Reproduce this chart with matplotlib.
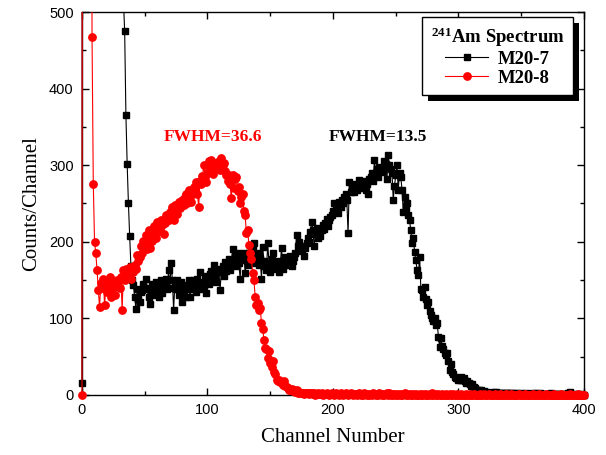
import numpy as np
import matplotlib
matplotlib.use("Agg")
import matplotlib.pyplot as plt
from matplotlib.patches import Rectangle
from matplotlib.transforms import IdentityTransform
from matplotlib.ticker import MultipleLocator

plt.rcParams['mathtext.fontset'] = 'custom'
plt.rcParams['mathtext.rm'] = 'Liberation Serif:bold'
plt.rcParams['mathtext.bf'] = 'Liberation Serif:bold'
plt.rcParams['mathtext.default'] = 'bf'

channels = np.arange(0, 401)

# M20-7 (black squares), counts per channel 0..400
m20_7 = [15,
         2950, 2800, 2650, 2500, 2350, 2200, 2050, 1900, 1800, 1700,
         1600, 1500, 1420, 1340, 1260, 1190, 1120, 1060, 1000, 950,
         900, 850, 805, 765, 725, 690, 655, 625, 600, 575,
         555, 535, 515,
         475, 365, 301, 250, 207, 168,
         150, 143, 128, 112, 138, 125, 122, 135, 137, 145,
         140, 152, 139, 128, 119, 133, 145, 130, 137, 148,
         133, 128, 141, 150, 133, 148, 146, 152, 138, 163,
         140, 172, 150, 111, 145, 138, 150, 130, 139, 148,
         122, 135, 143, 128, 140, 150, 128, 138, 146, 150,
         141, 135, 152, 145, 160, 138, 148, 142, 155, 133,
         150, 145, 158, 162, 150, 170, 155, 148, 160, 165,
         137, 160, 168, 155, 174, 162, 170, 178, 163, 172,
         191, 175, 182, 168, 185, 172, 152, 180, 176, 185,
         159, 178, 170, 185, 176, 190, 194, 198, 172, 180,
         185, 170, 178, 152, 193, 175, 168, 163, 198, 172,
         160, 178, 185, 170, 165, 175, 168, 160, 172, 192,
         165, 176, 180, 172, 178, 170, 182, 168, 175, 180,
         185, 209, 195, 200, 190, 188, 195, 181, 192, 198,
         205, 200, 213, 226, 215, 194, 210, 218, 205, 212,
         207, 215, 222, 217, 225, 230, 220, 228, 232, 235,
         240, 250, 245, 248, 237, 252, 245, 255, 250, 258,
         262, 255, 211, 278, 265, 270, 268, 265, 275, 268,
         272, 281, 275, 270, 278, 280, 268, 276, 262, 282,
         285, 290, 280, 307, 289, 295, 285, 298, 292, 291,
         295, 305, 302, 282, 313, 300, 295, 290, 255, 273,
         287, 300, 268, 290, 285, 268, 239, 258, 244, 250,
         235, 228, 215, 198, 205, 187, 176, 163, 156, 180,
         139, 137, 128, 141, 125, 118, 122, 109, 104, 100,
         96, 101, 91, 94, 76, 63, 75, 64, 60, 55,
         52, 55, 44, 33, 40, 30, 28, 24, 22, 22,
         20, 20, 24, 20, 22, 18, 16, 18, 16, 14,
         12, 14, 10, 9, 6, 7, 6, 5, 6, 4,
         5, 4, 3, 4, 3, 2, 3, 2, 4, 3,
         4, 2, 3, 2, 1, 2, 3, 1, 2, 2,
         1, 2, 3, 1, 2, 1, 0, 2, 1, 1,
         2, 1, 0, 1, 2, 1, 1, 0, 1, 2,
         1, 0, 2, 1, 1, 2, 1, 0, 1, 1,
         0, 1, 1, 0, 2, 1, 0, 1, 0, 1,
         1, 0, 1, 0, 1, 0, 1, 2, 1, 4,
         1, 0, 1, 0, 0, 1, 0, 0, 1, 0,
         0]

# M20-8 (red circles), counts per channel 0..400
m20_8 = [0,
         3000, 2800, 2400, 2000, 1600, 1300, 2000,
         468, 276, 200, 185, 163, 137, 115, 146, 140, 152, 117, 141,
         135, 148, 154, 128, 139, 145, 131, 142, 150, 148,
         140, 154, 111, 163, 150, 165, 158, 162, 167, 152,
         163, 160, 170, 165, 183, 175, 180, 194, 185, 201,
         197, 209, 190, 215, 192, 205, 201, 220, 211, 205,
         226, 218, 214, 228, 222, 210, 224, 235, 230, 228,
         239, 232, 245, 228, 248, 240, 236, 252, 244, 250,
         255, 248, 259, 262, 250, 268, 258, 252, 264, 272,
         268, 278, 262, 246, 280, 275, 286, 300, 285, 278,
         290, 305, 296, 307, 288, 300, 295, 303, 298, 306,
         294, 309, 300, 303, 292, 287, 280, 287, 275, 257,
         287, 270, 282, 285, 266, 272, 250, 259, 262, 240,
         235, 211, 215, 196, 185, 178, 159, 150, 128, 117,
         120, 111, 114, 94, 86, 72, 61, 60, 48, 57,
         42, 37, 45, 30, 28, 20, 18, 19, 17, 15,
         13, 18, 12, 10, 9, 7, 6, 8, 5, 6,
         4, 6, 3, 4, 2, 3, 2, 1, 2, 3,
         2, 1, 3, 2, 1, 2, 0, 1, 2, 1,
         1, 2, 0, 1, 1, 2, 1, 0, 1, 2,
         1, 0, 2, 1, 1, 0, 2, 1, 0, 1,
         3, 1, 0, 1, 2, 1, 0, 1, 1, 0,
         1, 2, 0, 1, 0, 3, 1, 0, 1, 0,
         1, 0, 2, 1, 0, 1, 0, 3, 1, 0,
         1, 0, 1, 2, 0, 3, 0, 1, 0, 1,
         0, 1, 0, 1, 0, 0, 1, 2, 0, 1,
         0, 1, 0, 0, 1, 0, 1, 0, 0, 1,
         0, 0, 1, 0, 1, 0, 0, 1, 0, 2,
         0, 1, 0, 0, 1, 0, 0, 1, 0, 0,
         1, 0, 0, 1, 0, 0, 1, 0, 0, 1,
         0, 0, 1, 0, 0, 0, 1, 0, 0, 1,
         0, 0, 1, 0, 0, 0, 0, 1, 0, 0,
         1, 0, 0, 0, 1, 0, 0, 0, 0, 1,
         0, 0, 0, 1, 0, 0, 0, 0, 1, 0,
         0, 0, 1, 0, 0, 0, 0, 0, 1, 0,
         0, 0, 0, 1, 0, 0, 0, 0, 0, 1,
         0, 0, 0, 0, 1, 0, 0, 0, 0, 0,
         1, 0, 0, 0, 0, 0, 1, 0, 0, 0,
         0, 0, 1, 0, 0, 0, 0, 0, 0, 1,
         0, 0, 0, 0, 0, 1, 0, 0, 0, 0,
         0]

fig = plt.figure(figsize=(6.06, 4.55), dpi=100)
ax = fig.add_axes([0.1353, 0.1319, 0.8284, 0.8417])

l7, = ax.plot(channels, m20_7, color='black', lw=0.8, marker='s', ms=4.6,
              label='M20-7', zorder=3)
l8, = ax.plot(channels, m20_8, color='red', lw=0.8, marker='o', ms=5.3,
              label='M20-8', zorder=3.1)

# let markers sitting on the x axis show fully, but cut everything above 500
clip = Rectangle((-0.01, -0.02), 1.02, 1.02, transform=ax.transAxes)
for ln in (l7, l8):
    ln.set_clip_path(clip)

ax.set_xlim(0, 400)
ax.set_ylim(0, 500)
ax.xaxis.set_major_locator(MultipleLocator(100))
ax.xaxis.set_minor_locator(MultipleLocator(50))
ax.yaxis.set_major_locator(MultipleLocator(100))
ax.yaxis.set_minor_locator(MultipleLocator(50))
ax.tick_params(which='both', direction='in', top=True, right=True, width=1)
ax.tick_params(which='major', length=5, pad=6)
ax.tick_params(which='minor', length=3)
for lab in ax.get_xticklabels() + ax.get_yticklabels():
    lab.set_fontfamily('Liberation Sans')
    lab.set_fontsize(10.5)
for sp in ax.spines.values():
    sp.set_linewidth(1)

ax.set_xlabel('Channel Number', fontfamily='Liberation Serif', fontsize=15, labelpad=8)
ax.set_ylabel('Counts/Channel', fontfamily='Liberation Serif', fontsize=15, labelpad=6)

ax.text(104, 337, 'FWHM=36.6', color='red', fontweight='bold',
        fontfamily='Liberation Serif', fontsize=12.5, ha='center', va='center')
ax.text(236, 337, 'FWHM=13.5', color='black', fontweight='bold',
        fontfamily='Liberation Serif', fontsize=12.5, ha='center', va='center')

leg = ax.legend(handles=[l7, l8], title=r'$^{241}$Am Spectrum',
                loc='upper right', bbox_to_anchor=(0.978, 0.987), borderaxespad=0,
                frameon=True, fancybox=False, edgecolor='black', framealpha=1,
                prop=dict(family='Liberation Serif', weight='bold', size=13.5),
                title_fontproperties=dict(family='Liberation Serif', weight='bold', size=13.5),
                handlelength=2.3, labelspacing=0.1, handletextpad=0.5,
                borderpad=0.45)
leg.set_zorder(6)
leg.get_frame().set_linewidth(1)

# drop shadow behind the legend box
fig.canvas.draw()
bb = leg.get_window_extent()
shadow = Rectangle((bb.x0 + 6, bb.y0 - 6), bb.width, bb.height,
                   transform=IdentityTransform(), facecolor='black',
                   edgecolor='none', clip_on=False, zorder=5.9)
ax.add_artist(shadow)

fig.savefig('out.png', dpi=100)
